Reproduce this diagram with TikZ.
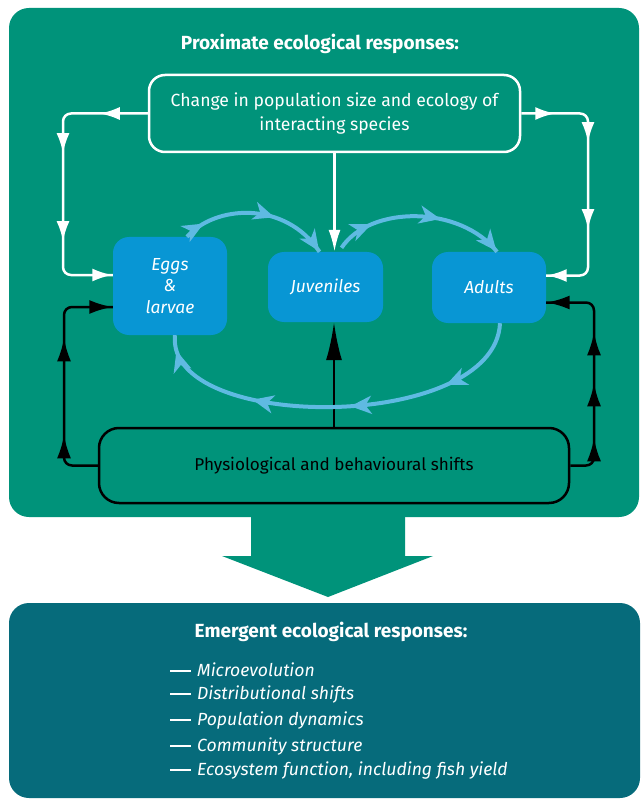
\documentclass[tikz,border=0pt]{standalone}
\usepackage{fontspec}
\setmainfont{Fira Sans}
\usetikzlibrary{arrows.meta,decorations.markings}
\definecolor{topgreen}{RGB}{0,147,122}
\definecolor{botteal}{RGB}{6,107,123}
\definecolor{boxblue}{RGB}{8,150,212}
\definecolor{lblue}{RGB}{95,186,226}
\tikzset{
  wtip/.tip={Latex[length=20pt,width=13pt]},
  btip/.tip={Latex[length=23pt,width=14pt]},
  longtip/.tip={Latex[length=38pt,width=16pt]},
  ltip/.tip={Stealth[length=21pt,width=18pt,inset=6pt]},
  arrowat/.style 2 args={postaction={decorate,decoration={markings,mark=at position #1 with {\arrow{#2}}}}},
  wline/.style={draw=white,line width=2.5pt,rounded corners=8pt},
  bline/.style={draw=black,line width=2.5pt,rounded corners=8pt},
  lline/.style={draw=lblue,line width=4pt},
  stage/.style={fill=boxblue,rounded corners=16pt,text=white,font=\fontsize{17.4}{21.5}\selectfont\itshape,align=center,inner sep=0pt},
  outbox/.style={rounded corners=16pt,line width=2.5pt,align=center,inner sep=0pt},
  item/.style={anchor=west,text=white,font=\fontsize{17.6}{19}\selectfont,inner sep=0pt},
  ttl/.style={text=white,font=\fontsize{19}{21}\selectfont\bfseries},
}
\newcommand{\itemdash}{\rule[0.26em]{21pt}{2.6pt}\hspace{6pt}}
\begin{document}
\begin{tikzpicture}[x=1pt,y=-1pt]
\useasboundingbox (0,0) rectangle (642,799);
% panels
\fill[topgreen,rounded corners=20pt] (9,8) rectangle (639,517);
\fill[botteal,rounded corners=20pt] (9,603) rectangle (640,798);
\fill[topgreen] (251,510) -- (251,556) -- (222,556) -- (328,597) -- (433,556) -- (405,556) -- (405,510) -- cycle;
% titles
\node[ttl] (ttop) at (320,44) {Proximate ecological responses:};
\node[ttl] (tbot) at (331,632) {Emergent ecological responses:};
% boxes
\node[outbox,draw=white,text=white,minimum width=371pt,minimum height=77pt,font=\fontsize{17.6}{24}\selectfont] (chg) at (334.5,113.5) {Change in population size and ecology of\\interacting species};
\node[outbox,draw=black,text=black,minimum width=470pt,minimum height=75pt,rounded corners=20pt,font=\fontsize{17.1}{19}\selectfont] (phys) at (334,465.5) {Physiological and behavioural shifts};
\node[stage,minimum width=114pt,minimum height=98pt] (eggs) at (170,286) {Eggs\\\&\\larvae};
\node[stage,minimum width=115pt,minimum height=70pt] (juv) at (325.5,287) {Juveniles};
\node[stage,minimum width=114pt,minimum height=71pt] (adults) at (489,287.5) {Adults};
% coordinates
\coordinate (wl) at (63,113.5);
\coordinate (wr) at (588,113.5);
\coordinate (bl) at (64,465.5);
\coordinate (br) at (594,465.5);
% white connectors
\draw[wline,arrowat={48pt}{wtip},arrowat={121pt}{wtip},arrowat={209pt}{wtip},arrowat={-0.5pt}{wtip}]
  (chg.west) -- (wl) |- ([yshift=11pt]eggs.west);
\draw[wline,arrowat={34pt}{wtip},arrowat={92pt}{wtip},arrowat={179pt}{wtip},arrowat={-0.5pt}{wtip}]
  (chg.east) -- (wr) |- ([yshift=12pt]adults.east);
\draw[wline,-{Latex[length=22pt,width=12pt]}] (chg.south) -- (chg.south |- juv.north);
% black connectors
\draw[bline,arrowat={60.5pt}{btip},arrowat={157.5pt}{btip},arrowat={-0.5pt}{btip}]
  (phys.west) -- (bl) |- ([yshift=-21pt]eggs.west);
\draw[bline,arrowat={47.5pt}{btip},arrowat={102.5pt}{btip},arrowat={153.5pt}{btip},arrowat={-0.5pt}{btip}]
  (phys.east) -- (br) |- ([yshift=-15pt]adults.east);
\draw[draw=black,line width=2.5pt,-{longtip}] (phys.north) -- (phys.north |- juv.south);
% life cycle arrows
\draw[lline,arrowat={0.14}{ltip},arrowat={0.62}{ltip},arrowat={0.995}{ltip}]
  ([xshift=17pt]eggs.north) .. controls (215,205) and (285,200) .. ([xshift=-6pt]juv.north);
\draw[lline,arrowat={0.22}{ltip},arrowat={0.62}{ltip},arrowat={0.995}{ltip}]
  ([xshift=16pt,yshift=4pt]juv.north) .. controls (370,205) and (460,205) .. ([xshift=8pt]adults.north);
\draw[lline,arrowat={0.22}{ltip},arrowat={0.47}{ltip},arrowat={0.72}{ltip},arrowat={0.96}{ltip}]
  ([xshift=11pt]adults.south) .. controls (495,433) and (165,433) .. ([xshift=5pt]eggs.south);
% list
\node[item] (i1) at (170,670) {\itemdash\textit{Microevolution}};
\node[item] (i2) at (170,695) {\itemdash\textit{Distributional shifts}};
\node[item] (i3) at (170,721) {\itemdash\textit{Population dynamics}};
\node[item] (i4) at (170,747) {\itemdash\textit{Community structure}};
\node[item] (i5) at (170,771) {\itemdash\textit{Ecosystem function, including fish yield}};
\end{tikzpicture}
\end{document}
